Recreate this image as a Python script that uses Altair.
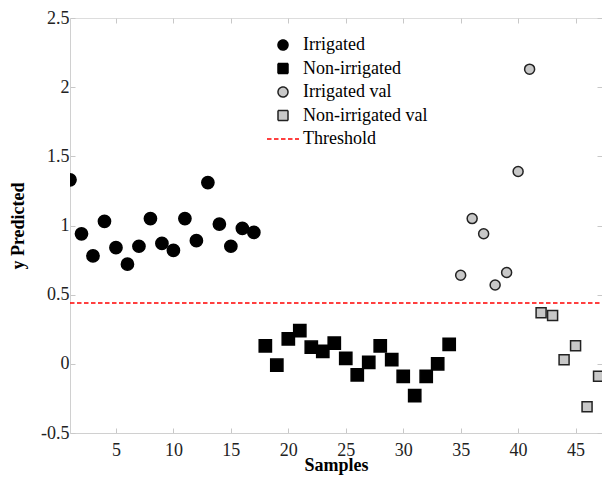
import altair as alt
import pandas as pd

irrigated = [1.33, 0.94, 0.78, 1.03, 0.84, 0.72, 0.85, 1.05, 0.87, 0.82, 1.05, 0.89, 1.31, 1.01, 0.85, 0.98, 0.95]
non_irrigated = [0.13, -0.01, 0.18, 0.24, 0.12, 0.09, 0.15, 0.04, -0.08, 0.01, 0.13, 0.03, -0.09, -0.23, -0.09, 0.00, 0.14]
irrigated_val = [0.64, 1.05, 0.94, 0.57, 0.66, 1.39, 2.13]
non_irrigated_val = [0.37, 0.35, 0.03, 0.13, -0.31, -0.09, 0.23]
threshold = 0.44

series_names = ["Irrigated", "Non-irrigated", "Irrigated val", "Non-irrigated val", "Threshold"]
x_ticks = [5, 10, 15, 20, 25, 30, 35, 40, 45]
y_ticks = [-0.5, 0, 0.5, 1, 1.5, 2, 2.5]

rows = []
start = 1
for name, vals in zip(series_names[:4], [irrigated, non_irrigated, irrigated_val, non_irrigated_val]):
    for i, v in enumerate(vals):
        rows.append({"sample": start + i, "value": v, "series": name})
    start += len(vals)
df = pd.DataFrame(rows)
thr_df = pd.DataFrame({"value": [threshold], "series": ["Threshold"]})

FONT = "Liberation Serif"
W, H = 532, 415
legend_cfg = dict(
    title=None, orient="none", legendX=204, legendY=18,
    labelFont=FONT, labelFontSize=18, labelColor="black",
    rowPadding=5.5, labelOffset=11, symbolStrokeWidth=1.5, symbolSize=100,
)

fill_scale = alt.Scale(domain=series_names, range=["black", "black", "#c8c8c8", "#c8c8c8", "transparent"])
stroke_scale = alt.Scale(domain=series_names, range=["black", "black", "#222222", "#222222", "#ff0000"])
shape_scale = alt.Scale(domain=series_names, range=["circle", "square", "circle", "square", "M-3.2,0H3.2"])
dash_scale = alt.Scale(domain=series_names, range=[[1, 0], [1, 0], [1, 0], [1, 0], [4.5, 2.5]])

xscale = alt.Scale(domain=[1, 47.3], nice=False, zero=False)
yscale = alt.Scale(domain=[-0.5, 2.5], nice=False, zero=False)

axis_common = dict(
    grid=False, labelFont=FONT, labelFontSize=18, labelColor="#222222",
    titleFont=FONT, titleFontWeight="bold", titleFontSize=18, titleColor="black",
    domainColor="#d0d0d0", tickColor="#c8c8c8", tickSize=alt.ExprRef("-5"),
)

x_axis = alt.Axis(title="Samples", values=x_ticks, labelPadding=13,
                  titleY=37, titleBaseline="alphabetic", **axis_common)
y_axis = alt.Axis(title="y Predicted", values=y_ticks, labelExpr="datum.value + ''",
                  labelPadding=6, titleX=-52, titleY=H / 2, titleBaseline="middle", **axis_common)

def point_layer(names, size, show_axes):
    return alt.Chart(df).transform_filter(
        alt.FieldOneOfPredicate(field="series", oneOf=names)
    ).mark_point(strokeWidth=1.5, opacity=1, fillOpacity=1, size=size, clip=True).encode(
        x=alt.X("sample:Q", scale=xscale, axis=x_axis if show_axes else None),
        y=alt.Y("value:Q", scale=yscale, axis=y_axis if show_axes else None),
        fill=alt.Fill("series:N", scale=fill_scale, legend=alt.Legend(**legend_cfg)),
        stroke=alt.Stroke("series:N", scale=stroke_scale, legend=alt.Legend(**legend_cfg)),
        shape=alt.Shape("series:N", scale=shape_scale, legend=alt.Legend(**legend_cfg)),
    )

train = point_layer(series_names[:2], 150, True)
val = point_layer(series_names[2:4], 100, False)

rule = alt.Chart(thr_df).mark_rule(strokeWidth=1.5).encode(
    x=alt.value(0), x2=alt.value(W),
    y=alt.Y("value:Q", scale=yscale,
            axis=alt.Axis(orient="right", values=y_ticks, labels=False, domain=False, title=None,
                          grid=False, tickColor="#c8c8c8", tickSize=alt.ExprRef("-5"))),
    stroke=alt.Stroke("series:N", scale=stroke_scale, legend=alt.Legend(**legend_cfg)),
    strokeDash=alt.StrokeDash("series:N", scale=dash_scale, legend=alt.Legend(**legend_cfg)),
)

top_axis = alt.Chart(thr_df).mark_point(opacity=0).encode(
    x=alt.X("value:Q", scale=xscale,
            axis=alt.Axis(orient="top", values=x_ticks, labels=False, domain=False, title=None,
                          grid=False, tickColor="#c8c8c8", tickSize=alt.ExprRef("-5"))),
)

chart = alt.layer(train, val, rule, top_axis).resolve_axis(
    x="independent", y="independent"
).properties(
    width=W, height=H,
    autosize=alt.AutoSizeParams(type="none"),
    padding={"left": 62, "top": 10, "right": 0, "bottom": 42},
).configure_view(
    stroke="#d0d0d0", strokeWidth=1
).configure(font=FONT)

chart.save("out.html", embed_options={"renderer": "svg", "actions": False})
